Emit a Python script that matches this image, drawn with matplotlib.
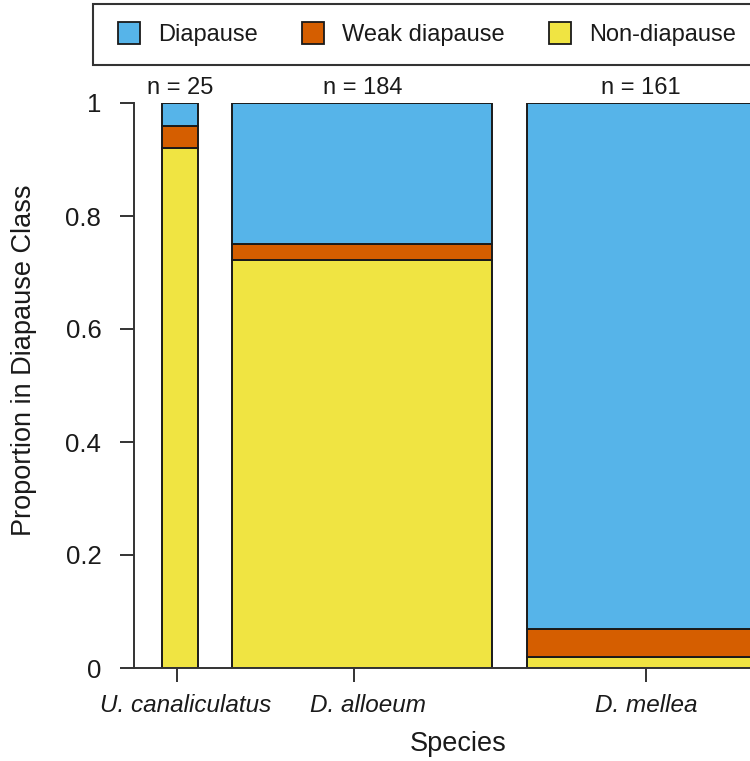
import numpy as np
import matplotlib
matplotlib.use('Agg')
import matplotlib.pyplot as plt
from matplotlib.patches import Patch, Rectangle
from matplotlib.legend_handler import HandlerPatch

# counts per diapause class for each species
species = ['U. canaliculatus', 'D. alloeum', 'D. mellea']
classes = ['Diapause', 'Weak diapause', 'Non-diapause']
non_diapause = [23, 133, 3]
weak_diapause = [1, 5, 8]
diapause = [1, 46, 150]
colours = ['#56B4E9', '#D55E00', '#F0E442']

plt.rcParams['font.family'] = ['Liberation Sans', 'DejaVu Sans']
ink = '#1a1a1a'

n = np.array(non_diapause) + np.array(weak_diapause) + np.array(diapause)

# bar width proportional to sample size, barplot-style spacing
space = 0.2 * n.mean()
left = space * np.arange(1, len(n) + 1) + np.concatenate([[0], np.cumsum(n)[:-1]])
centre = left + n / 2
# tick positions follow the un-spaced cumulative mid-points
tick_x = 1.2 * (np.cumsum(n) - n / 2) + 0.8 * space

fig = plt.figure(figsize=(7.5, 7.61), dpi=100)
ax = fig.add_axes([134 / 750, 93 / 761, 616 / 750, 565 / 761])

bottom = np.zeros(len(n))
for counts, col in zip([non_diapause, weak_diapause, diapause], colours[::-1]):
    prop = np.array(counts) / n
    ax.bar(left, prop, width=n, bottom=bottom, align='edge', color=col,
           edgecolor=ink, linewidth=1.4)
    bottom += prop

for x, k in zip(centre, n):
    ax.text(x, 1 + 15 / 565, f'n = {k}', ha='center', va='center',
            fontsize=17, color=ink, clip_on=False)

ax.set_xlim(4.64, 440.6)
ax.set_ylim(0, 1)
for side in ['top', 'right']:
    ax.spines[side].set_visible(False)
ax.spines['left'].set_bounds(0, 1)
for side in ['left', 'bottom']:
    ax.spines[side].set_color('#333333')
    ax.spines[side].set_linewidth(1.4)

yt = [0, 0.2, 0.4, 0.6, 0.8, 1]
ax.set_yticks(yt)
ax.set_yticklabels(['0', '0.2', '0.4', '0.6', '0.8', '1'])
ax.tick_params(axis='y', length=10, width=1.4, color='#333333', pad=13.5,
               labelsize=18.5, labelcolor=ink)

# tick marks on their own, species names under the bars
ax.set_xticks(tick_x)
ax.set_xticklabels([])
ax.tick_params(axis='x', length=10, width=1.4, color='#333333')
for x, name in zip(centre, species):
    ax.text(x + 4, -38 / 565, name, ha='center', va='center', fontsize=17.5,
            fontstyle='italic', color=ink, clip_on=False)

ax.set_ylabel('Proportion in Diapause Class', fontsize=19.5, color=ink)
ax.yaxis.set_label_coords(-0.1575, 0.545)
ax.set_xlabel('Species', fontsize=19.5, color=ink)
ax.xaxis.set_label_coords((458 - 134) / 616, -0.111)


def square_key(legend, orig_handle, xdescent, ydescent, width, height, fontsize):
    size = 0.93 * fontsize
    return Rectangle((-xdescent + width - size, -ydescent + (height - size) / 2),
                     size, size)


handles = [Patch(facecolor=c, edgecolor=ink, linewidth=1.3) for c in colours]
leg = fig.legend(handles, classes, loc='upper left',
                 bbox_to_anchor=(93 / 750, 1 - 4 / 761), ncol=3,
                 fancybox=False, edgecolor='#333333', framealpha=1,
                 fontsize=17, handlelength=1.19, handleheight=0.93,
                 handletextpad=0.76, columnspacing=1.62, borderpad=0.8,
                 borderaxespad=0,
                 handler_map={Patch: HandlerPatch(patch_func=square_key)})
leg.get_frame().set_linewidth(1.5)
for t in leg.get_texts():
    t.set_color(ink)

fig.savefig('out.png', dpi=100)
